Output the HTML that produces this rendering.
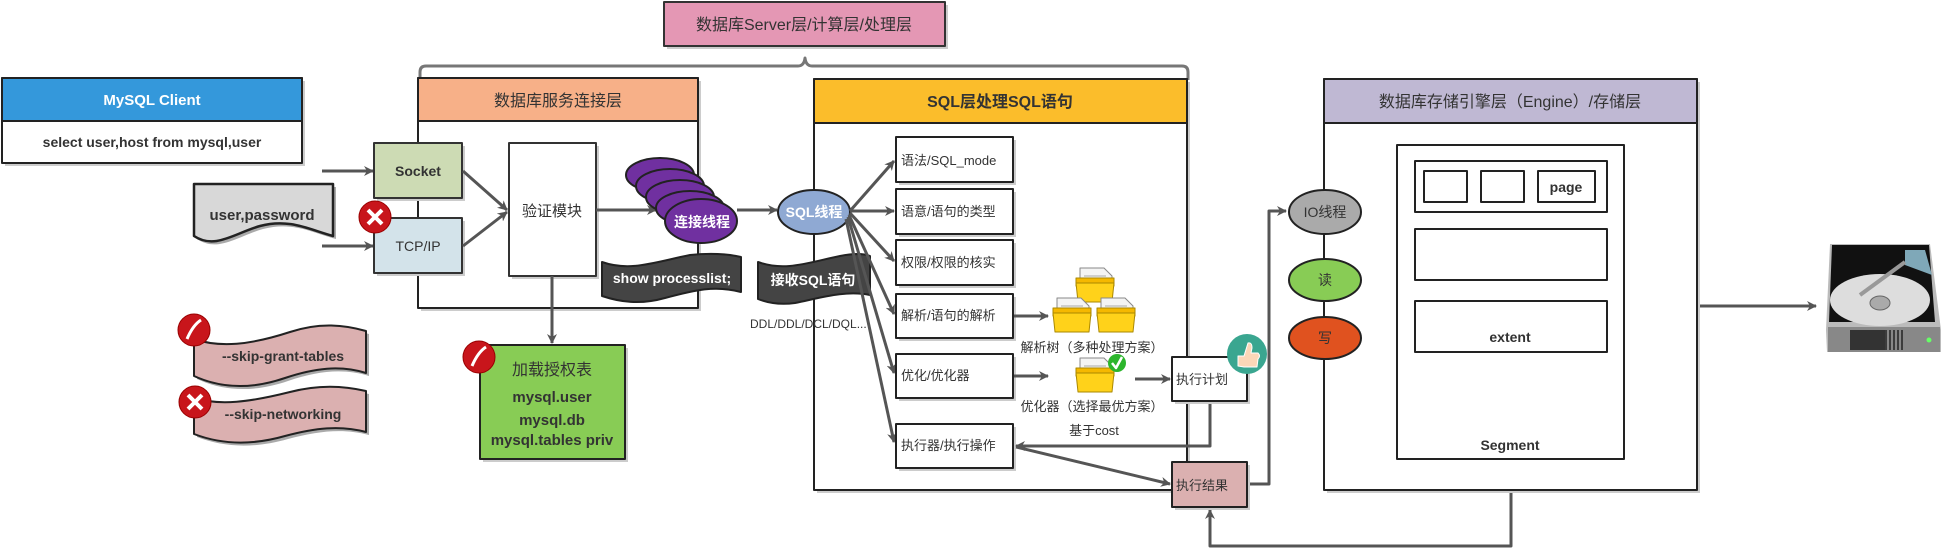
<!DOCTYPE html>
<html><head><meta charset="utf-8"><style>
html,body{margin:0;padding:0;background:#fff;}
svg{display:block;}
text{font-family:"Liberation Sans","Noto Sans CJK SC",sans-serif;fill:#333;}
</style></head><body>
<svg width="1950" height="558" viewBox="0 0 1950 558" xmlns="http://www.w3.org/2000/svg">
<defs>
<marker id="ar" markerWidth="10" markerHeight="10" refX="9" refY="5" orient="auto" markerUnits="userSpaceOnUse">
<path d="M0,0 L10,5 L0,10 L3,5 Z" fill="#555"/></marker>
<g id="fd">
<path d="M2,0 L26,0 L34,8 L34,26 L2,26 Z" fill="#f4f4f4" stroke="#888" stroke-width="1"/>
<path d="M6,8 L28,8 M6,12 L28,12 M6,16 L28,16" stroke="#aaa" stroke-width="1"/>
<rect x="-2" y="10" width="38" height="8" fill="#f5b800" stroke="#a80" stroke-width="1"/>
<path d="M-2,15 L36,15 L34,34 L0,34 Z" fill="#ffd21a" stroke="#a80" stroke-width="1"/>
</g>
</defs>
<g stroke-linejoin="round">
<!-- top pink -->
<rect x="667" y="5" width="281" height="44" fill="#ccc"/>
<rect x="664" y="2" width="281" height="44" fill="#e497b4" stroke="#333" stroke-width="2"/>
<text x="804" y="30" font-size="16" text-anchor="middle">数据库Server层/计算层/处理层</text>
<!-- brace -->
<path d="M420,80 L420,72 Q420,66 426,66 L798,66 Q804,66 805,58 Q806,66 812,66 L1182,66 Q1188,66 1188,72 L1188,80" fill="none" stroke="#777" stroke-width="3"/>

<!-- MySQL client -->
<rect x="5" y="81" width="300" height="85" fill="#ccc"/>
<rect x="2" y="78" width="300" height="85" fill="#fff" stroke="#222" stroke-width="2"/>
<rect x="2" y="78" width="300" height="43" fill="#3498db" stroke="#222" stroke-width="2"/>
<text x="152" y="105" font-size="15" font-weight="bold" text-anchor="middle" style="fill:#fff">MySQL Client</text>
<text x="152" y="147" font-size="14" font-weight="bold" text-anchor="middle">select user,host from mysql,user</text>

<!-- connection layer -->
<rect x="421" y="81" width="280" height="230" fill="#ccc"/>
<rect x="418" y="78" width="280" height="230" fill="#fff" stroke="#222" stroke-width="2"/>
<rect x="418" y="78" width="280" height="43" fill="#f7b088" stroke="#222" stroke-width="2"/>
<text x="558" y="106" font-size="16" text-anchor="middle">数据库服务连接层</text>

<line x1="322" y1="171" x2="373" y2="171" stroke="#555" stroke-width="3" marker-end="url(#ar)"/>
<line x1="322" y1="246" x2="373" y2="246" stroke="#555" stroke-width="3" marker-end="url(#ar)"/>

<!-- user,password -->
<path d="M194,184 L333,184 L333,236 C310,230 290,218 260,226 C235,233 215,250 194,236 Z" fill="#aaa" transform="translate(3,3)"/>
<path d="M194,184 L333,184 L333,236 C310,230 290,218 260,226 C235,233 215,250 194,236 Z" fill="#d8d8d8" stroke="#222" stroke-width="2.5"/>
<text x="262" y="220" font-size="15" font-weight="bold" text-anchor="middle">user,password</text>

<!-- Socket / TCP -->
<rect x="377" y="146" width="88" height="55" fill="#ccc"/>
<rect x="374" y="143" width="88" height="55" fill="#cddbb4" stroke="#333" stroke-width="2"/>
<text x="418" y="176" font-size="14" font-weight="bold" text-anchor="middle">Socket</text>
<rect x="377" y="221" width="88" height="55" fill="#ccc"/>
<rect x="374" y="218" width="88" height="55" fill="#d3e3ea" stroke="#333" stroke-width="2"/>
<text x="418" y="251" font-size="14" text-anchor="middle">TCP/IP</text>
<circle cx="375" cy="217" r="16" fill="#c8151b" stroke="#900" stroke-width="1"/>
<path d="M368,210 L382,224 M382,210 L368,224" stroke="#fff" stroke-width="4"/>

<line x1="463" y1="171" x2="507" y2="210" stroke="#555" stroke-width="3" marker-end="url(#ar)"/>
<line x1="463" y1="246" x2="507" y2="212" stroke="#555" stroke-width="3" marker-end="url(#ar)"/>

<!-- verify -->
<rect x="512" y="146" width="87" height="133" fill="#ccc"/>
<rect x="509" y="143" width="87" height="133" fill="#fff" stroke="#333" stroke-width="2"/>
<text x="552" y="216" font-size="15" text-anchor="middle">验证模块</text>
<line x1="596" y1="210" x2="656" y2="210" stroke="#555" stroke-width="3" marker-end="url(#ar)"/>
<line x1="552" y1="276" x2="552" y2="343" stroke="#555" stroke-width="3" marker-end="url(#ar)"/>

<!-- threads -->
<g stroke="#222" stroke-width="2" fill="#7030a0">
<ellipse cx="660" cy="175" rx="34" ry="17"/>
<ellipse cx="670" cy="186" rx="34" ry="17"/>
<ellipse cx="680" cy="197" rx="34" ry="17"/>
<ellipse cx="690" cy="208" rx="34" ry="17"/>
<ellipse cx="701" cy="221" rx="36" ry="22"/>
</g>
<text x="702" y="227" font-size="14" font-weight="bold" text-anchor="middle" style="fill:#fff">连接线程</text>
<line x1="737" y1="210" x2="777" y2="210" stroke="#555" stroke-width="3" marker-end="url(#ar)"/>

<path d="M602,262 C630,272 655,262 690,255 C710,253 728,254 741,257 L741,292 C715,285 695,290 665,298 C640,305 620,302 602,296 Z" fill="#444" stroke="#222" stroke-width="2"/>
<text x="672" y="283" font-size="14" font-weight="bold" text-anchor="middle" style="fill:#fff">show processlist;</text>

<!-- green grants -->
<rect x="483" y="348" width="145" height="114" fill="#ccc"/>
<rect x="480" y="345" width="145" height="114" fill="#88cc55" stroke="#222" stroke-width="2"/>
<text x="552" y="375" font-size="16" text-anchor="middle">加载授权表</text>
<text x="552" y="402" font-size="15" font-weight="bold" text-anchor="middle">mysql.user</text>
<text x="552" y="425" font-size="15" font-weight="bold" text-anchor="middle">mysql.db</text>
<text x="552" y="445" font-size="15" font-weight="bold" text-anchor="middle">mysql.tables priv</text>
<circle cx="479" cy="357" r="16" fill="#c8151b" stroke="#900"/>
<path d="M472,366 Q478,352 486,347" stroke="#fff" stroke-width="3" fill="none"/>

<!-- skip banners -->
<path d="M194,339 C220,348 250,345 290,332 C320,322 345,325 366,331 L366,373 C340,365 315,368 285,378 C250,390 220,388 194,376 Z" fill="#aaa" transform="translate(3,3)"/>
<path d="M194,339 C220,348 250,345 290,332 C320,322 345,325 366,331 L366,373 C340,365 315,368 285,378 C250,390 220,388 194,376 Z" fill="#dbb0b0" stroke="#222" stroke-width="2"/>
<text x="283" y="361" font-size="14" font-weight="bold" text-anchor="middle">--skip-grant-tables</text>
<circle cx="194" cy="330" r="16" fill="#c8151b" stroke="#900"/>
<path d="M187,339 Q193,325 201,320" stroke="#fff" stroke-width="3" fill="none"/>

<path d="M194,398 C220,406 250,402 290,392 C320,384 345,386 366,391 L366,432 C340,425 315,428 285,436 C250,446 220,444 194,434 Z" fill="#aaa" transform="translate(3,3)"/>
<path d="M194,398 C220,406 250,402 290,392 C320,384 345,386 366,391 L366,432 C340,425 315,428 285,436 C250,446 220,444 194,434 Z" fill="#dbb0b0" stroke="#222" stroke-width="2"/>
<text x="283" y="419" font-size="14" font-weight="bold" text-anchor="middle">--skip-networking</text>
<circle cx="195" cy="402" r="16" fill="#c8151b" stroke="#900"/>
<path d="M188,395 L202,409 M202,395 L188,409" stroke="#fff" stroke-width="4"/>

<!-- SQL layer -->
<rect x="817" y="82" width="373" height="411" fill="#ccc"/>
<rect x="814" y="79" width="373" height="411" fill="#fff" stroke="#222" stroke-width="2"/>
<rect x="814" y="79" width="373" height="44" fill="#fbbd2b" stroke="#222" stroke-width="2"/>
<text x="1000" y="107" font-size="16" font-weight="bold" text-anchor="middle">SQL层处理SQL语句</text>

<ellipse cx="814" cy="212" rx="36" ry="22" fill="#8fa9d3" stroke="#222" stroke-width="2"/>
<text x="814" y="217" font-size="14" font-weight="bold" text-anchor="middle" style="fill:#fff">SQL线程</text>
<path d="M758,262 C785,272 810,262 840,256 C855,253 865,254 870,256 L870,295 C845,290 820,298 795,303 C780,305 768,303 758,299 Z" fill="#444" stroke="#222" stroke-width="2"/>
<text x="813" y="285" font-size="14" font-weight="bold" text-anchor="middle" style="fill:#fff">接收SQL语句</text>
<text x="750" y="328" font-size="12">DDL/DDL/DCL/DQL...</text>

<g stroke="#555" stroke-width="3" fill="none">
<line x1="850" y1="211" x2="894" y2="161" marker-end="url(#ar)"/>
<line x1="850" y1="211" x2="894" y2="211" marker-end="url(#ar)"/>
<line x1="850" y1="213" x2="894" y2="261" marker-end="url(#ar)"/>
<line x1="849" y1="215" x2="894" y2="314" marker-end="url(#ar)"/>
<line x1="848" y1="217" x2="894" y2="373" marker-end="url(#ar)"/>
<line x1="846" y1="219" x2="894" y2="442" marker-end="url(#ar)"/>
</g>

<g stroke="#222" stroke-width="2">
<rect x="899" y="140" width="117" height="45" fill="#ccc" stroke="none"/>
<rect x="896" y="137" width="117" height="45" fill="#fff"/>
<rect x="899" y="192" width="117" height="45" fill="#ccc" stroke="none"/>
<rect x="896" y="189" width="117" height="45" fill="#fff"/>
<rect x="899" y="243" width="117" height="45" fill="#ccc" stroke="none"/>
<rect x="896" y="240" width="117" height="45" fill="#fff"/>
<rect x="899" y="297" width="117" height="44" fill="#ccc" stroke="none"/>
<rect x="896" y="294" width="117" height="44" fill="#fff"/>
<rect x="899" y="357" width="117" height="44" fill="#ccc" stroke="none"/>
<rect x="896" y="354" width="117" height="44" fill="#fff"/>
<rect x="899" y="427" width="117" height="44" fill="#ccc" stroke="none"/>
<rect x="896" y="424" width="117" height="44" fill="#fff"/>
</g>
<g font-size="13">
<text x="901" y="165">语法/SQL_mode</text>
<text x="901" y="216">语意/语句的类型</text>
<text x="901" y="267">权限/权限的核实</text>
<text x="901" y="320">解析/语句的解析</text>
<text x="901" y="380">优化/优化器</text>
<text x="901" y="450">执行器/执行操作</text>
</g>

<!-- folders -->
<use href="#fd" x="1078" y="268"/>
<use href="#fd" x="1055" y="298"/>
<use href="#fd" x="1099" y="298"/>
<use href="#fd" x="1078" y="358"/>
<circle cx="1117" cy="363" r="9" fill="#2cb52c"/>
<path d="M1112,363 L1116,368 L1122,357" stroke="#fff" stroke-width="2.5" fill="none"/>
<text x="1092" y="352" font-size="13" text-anchor="middle">解析树（多种处理方案）</text>
<text x="1092" y="411" font-size="13" text-anchor="middle">优化器（选择最优方案）</text>
<text x="1094" y="435" font-size="13" text-anchor="middle">基于cost</text>
<g stroke="#555" stroke-width="3" fill="none">
<line x1="1014" y1="316" x2="1048" y2="316" marker-end="url(#ar)"/>
<line x1="1014" y1="376" x2="1048" y2="376" marker-end="url(#ar)"/>
<line x1="1135" y1="379" x2="1170" y2="379" marker-end="url(#ar)"/>
<polyline points="1210,401 1210,446 1016,446" marker-end="url(#ar)"/>
<line x1="1016" y1="447" x2="1170" y2="484" marker-end="url(#ar)"/>
<polyline points="1247,484 1269,484 1269,211 1286,211" marker-end="url(#ar)"/>
<polyline points="1511,490 1511,546 1210,546 1210,510" marker-end="url(#ar)"/>
<line x1="1697" y1="306" x2="1816" y2="306" marker-end="url(#ar)"/>
</g>

<rect x="1175" y="360" width="75" height="44" fill="#ccc"/>
<rect x="1172" y="357" width="75" height="44" fill="#fff" stroke="#222" stroke-width="2"/>
<text x="1176" y="384" font-size="13">执行计划</text>
<circle cx="1247" cy="354" r="20" fill="#3aa690"/>
<path d="M1238,356 L1244,356 L1248,343 Q1252,342 1252,348 L1251,353 L1258,353 Q1261,356 1258,359 L1257,367 L1244,367 L1238,366 Z" fill="#fbd7b8" stroke="#fff" stroke-width="1"/>
<rect x="1175" y="465" width="75" height="45" fill="#ccc"/>
<rect x="1172" y="462" width="75" height="45" fill="#dbb0b0" stroke="#222" stroke-width="2"/>
<text x="1176" y="490" font-size="13">执行结果</text>

<!-- storage layer -->
<rect x="1327" y="82" width="373" height="411" fill="#ccc"/>
<rect x="1324" y="79" width="373" height="411" fill="#fff" stroke="#222" stroke-width="2"/>
<rect x="1324" y="79" width="373" height="44" fill="#bfb8d3" stroke="#222" stroke-width="2"/>
<text x="1510" y="107" font-size="16" text-anchor="middle">数据库存储引擎层（Engine）/存储层</text>

<g stroke="#222" stroke-width="2">
<ellipse cx="1325" cy="212" rx="36" ry="22" fill="#aaa"/>
<ellipse cx="1325" cy="280" rx="36" ry="21" fill="#88cc55"/>
<ellipse cx="1325" cy="338" rx="36" ry="21" fill="#e0521f"/>
</g>
<text x="1325" y="217" font-size="14" text-anchor="middle">IO线程</text>
<text x="1325" y="285" font-size="14" text-anchor="middle">读</text>
<text x="1325" y="343" font-size="14" text-anchor="middle">写</text>

<g stroke="#222" stroke-width="2" fill="#fff">
<rect x="1397" y="145" width="227" height="314"/>
<rect x="1415" y="161" width="192" height="51"/>
<rect x="1424" y="171" width="43" height="31"/>
<rect x="1481" y="171" width="43" height="31"/>
<rect x="1538" y="171" width="57" height="31"/>
<rect x="1415" y="229" width="192" height="51"/>
<rect x="1415" y="301" width="192" height="51"/>
</g>
<text x="1566" y="192" font-size="14" font-weight="bold" text-anchor="middle">page</text>
<text x="1510" y="342" font-size="14" font-weight="bold" text-anchor="middle">extent</text>
<text x="1510" y="450" font-size="14" font-weight="bold" text-anchor="middle">Segment</text>

<!-- HDD -->
<path d="M1830,244 L1930,244 L1941,330 L1941,352 L1827,352 L1826,330 Z" fill="#bbb"/>
<path d="M1832,245 L1929,245 L1935,322 L1829,322 Z" fill="#111"/>
<ellipse cx="1880" cy="300" rx="50" ry="26" fill="#ddd"/>
<ellipse cx="1880" cy="303" rx="10" ry="7" fill="#aaa" stroke="#666"/>
<path d="M1905,250 L1925,250 L1932,275 L1905,265 Z" fill="#7fa8b8"/>
<line x1="1860" y1="295" x2="1905" y2="262" stroke="#999" stroke-width="4"/>
<rect x="1828" y="327" width="112" height="25" fill="#888"/>
<rect x="1850" y="330" width="35" height="20" fill="#333"/>
<g stroke="#222" stroke-width="1.5"><line x1="1886" y1="330" x2="1886" y2="350"/><line x1="1890" y1="330" x2="1890" y2="350"/><line x1="1894" y1="330" x2="1894" y2="350"/><line x1="1898" y1="330" x2="1898" y2="350"/><line x1="1902" y1="330" x2="1902" y2="350"/></g>
<circle cx="1929" cy="340" r="2.5" fill="#6f6"/>
</g>
</svg>
</body></html>
